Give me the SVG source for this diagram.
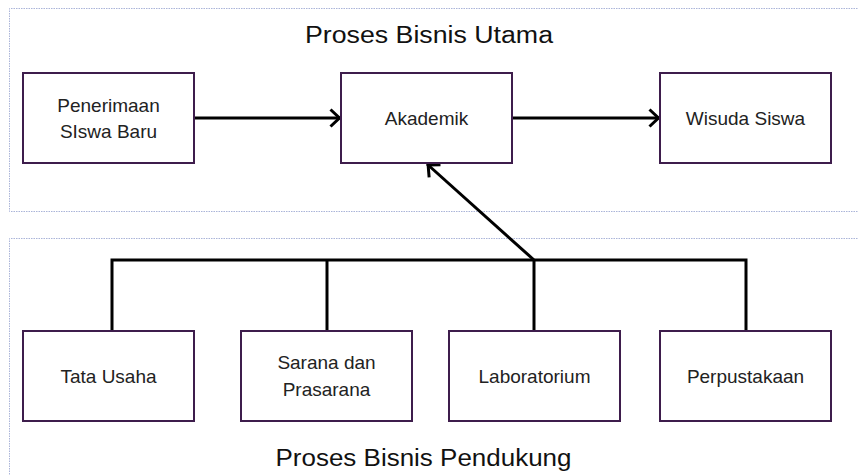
<svg xmlns="http://www.w3.org/2000/svg" width="858" height="475" viewBox="0 0 858 475">
  <style>
    .frame { fill: none; stroke: #aab4d8; stroke-width: 1; stroke-dasharray: 1.5 1; }
    .box { fill: #ffffff; stroke: #3e1d4c; stroke-width: 2; }
    .label { font-family: "Liberation Sans", Arial, sans-serif; font-size: 19px; fill: #222222; text-anchor: middle; }
    .title { font-family: "Liberation Sans", Arial, sans-serif; font-size: 23px; fill: #111111; text-anchor: middle; }
    .link { fill: none; stroke: #000000; stroke-width: 3; }
  </style>
  <defs>
    <marker id="chevron" markerUnits="userSpaceOnUse" markerWidth="24" markerHeight="24" viewBox="-14 -12 16 24" refX="0" refY="0" orient="auto">
      <path d="M -10.5 -8.5 L -1.5 0 L -10.5 8.5" fill="none" stroke="#000000" stroke-width="3"/>
    </marker>
  </defs>

  <rect width="858" height="475" fill="#ffffff"/>

  <!-- swimlane frames -->
  <g id="lane-utama">
    <path class="frame" d="M 860 8.5 H 9.5 V 211.5 H 860"/>
    <text class="title" x="429" y="43" textLength="248" lengthAdjust="spacingAndGlyphs">Proses Bisnis Utama</text>
  </g>
  <g id="lane-pendukung">
    <path class="frame" d="M 860 238.5 H 9.5 V 480"/>
    <text class="title" x="423.5" y="466" textLength="296" lengthAdjust="spacingAndGlyphs">Proses Bisnis Pendukung</text>
  </g>

  <!-- connectors -->
  <g id="connectors">
    <line class="link" x1="194" y1="118" x2="341" y2="118" marker-end="url(#chevron)"/>
    <line class="link" x1="512" y1="118" x2="660" y2="118" marker-end="url(#chevron)"/>
    <path class="link" d="M 112 331 V 260 H 746 V 331"/>
    <line class="link" x1="327" y1="260" x2="327" y2="331"/>
    <line class="link" x1="534" y1="260" x2="534" y2="331"/>
    <line class="link" x1="534" y1="260" x2="427" y2="164" marker-end="url(#chevron)"/>
  </g>

  <!-- core processes -->
  <g id="penerimaan">
    <rect class="box" x="23" y="73" width="171" height="90"/>
    <text class="label" x="108.5" y="112">Penerimaan</text>
    <text class="label" x="108.5" y="137.5">SIswa Baru</text>
  </g>
  <g id="akademik">
    <rect class="box" x="341" y="73" width="171" height="90"/>
    <text class="label" x="426.5" y="124.5">Akademik</text>
  </g>
  <g id="wisuda">
    <rect class="box" x="660" y="73" width="171" height="90"/>
    <text class="label" x="745.5" y="124.5">Wisuda Siswa</text>
  </g>

  <!-- supporting processes -->
  <g id="tata-usaha">
    <rect class="box" x="23" y="331" width="171" height="90"/>
    <text class="label" x="108.5" y="383">Tata Usaha</text>
  </g>
  <g id="sarana">
    <rect class="box" x="241" y="331" width="171" height="90"/>
    <text class="label" x="326.5" y="369">Sarana dan</text>
    <text class="label" x="326.5" y="396">Prasarana</text>
  </g>
  <g id="laboratorium">
    <rect class="box" x="449" y="331" width="171" height="90"/>
    <text class="label" x="534.5" y="383">Laboratorium</text>
  </g>
  <g id="perpustakaan">
    <rect class="box" x="660" y="331" width="171" height="90"/>
    <text class="label" x="745.5" y="383">Perpustakaan</text>
  </g>
</svg>
